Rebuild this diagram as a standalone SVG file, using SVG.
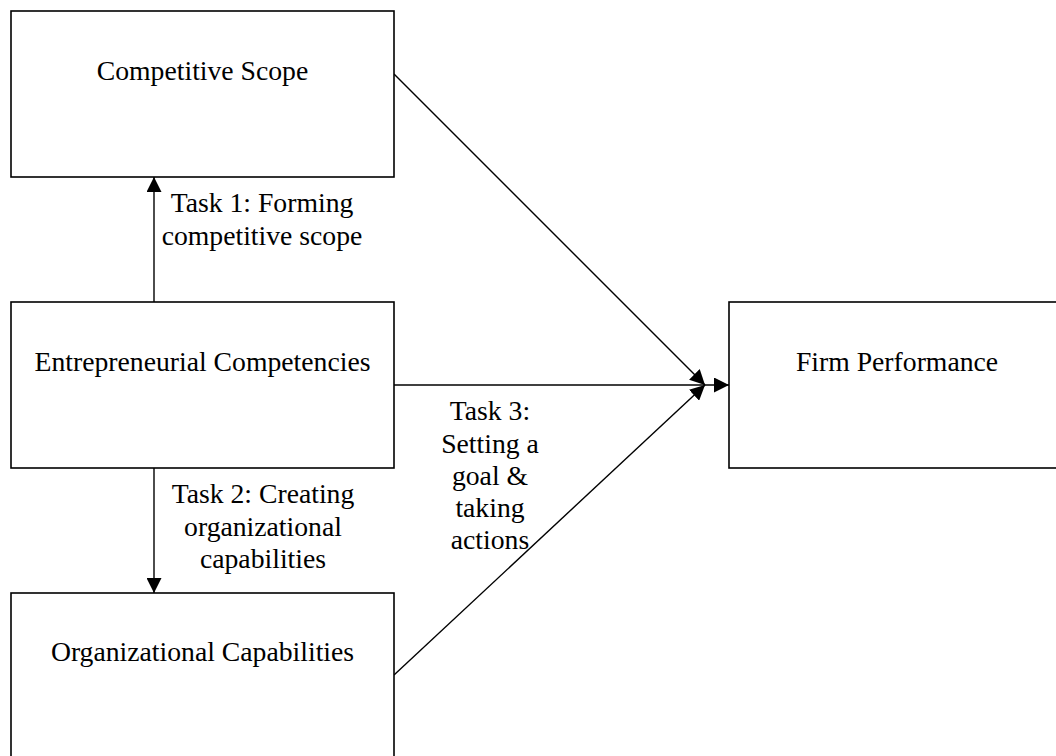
<svg xmlns="http://www.w3.org/2000/svg" width="1056" height="756" viewBox="0 0 1056 756">
  <style>
    .box { fill: #ffffff; stroke: #000000; stroke-width: 1.6; }
    .lbl { font-family: "Liberation Serif", "Times New Roman", serif; font-size: 27.7px; fill: #000000; text-anchor: middle; }
    .edge { fill: none; stroke: #000000; stroke-width: 1.4; marker-end: url(#arrow); }
  </style>
  <defs>
    <marker id="arrow" markerUnits="userSpaceOnUse" markerWidth="15" markerHeight="15" refX="15" refY="7.5" orient="auto">
      <path d="M0,0 L15,7.5 L0,15 Z" fill="#000000"/>
    </marker>
  </defs>

  <rect width="1056" height="756" fill="#ffffff"/>

  <!-- connectors -->
  <g id="connectors">
    <line class="edge" x1="154" y1="302" x2="154" y2="177"/>
    <line class="edge" x1="154" y1="468" x2="154" y2="593"/>
    <line class="edge" x1="394" y1="385" x2="729" y2="385"/>
    <line class="edge" x1="394" y1="74" x2="705" y2="385"/>
    <line class="edge" x1="394" y1="675" x2="705" y2="385"/>
    <text class="lbl"><tspan x="262" y="212">Task 1: Forming</tspan><tspan x="262" y="245">competitive scope</tspan></text>
    <text class="lbl"><tspan x="263" y="503">Task 2: Creating</tspan><tspan x="263" y="535.5">organizational</tspan><tspan x="263" y="567.5">capabilities</tspan></text>
    <text class="lbl"><tspan x="490" y="420">Task 3:</tspan><tspan x="490" y="452.5">Setting a</tspan><tspan x="490" y="485">goal &amp;</tspan><tspan x="490" y="517">taking</tspan><tspan x="490" y="549">actions</tspan></text>
  </g>

  <!-- nodes -->
  <g id="competitive-scope">
    <rect class="box" x="11" y="11" width="383" height="166"/>
    <text class="lbl" x="202.5" y="80">Competitive Scope</text>
  </g>
  <g id="entrepreneurial-competencies">
    <rect class="box" x="11" y="302" width="383" height="166"/>
    <text class="lbl" x="202.5" y="371">Entrepreneurial Competencies</text>
  </g>
  <g id="organizational-capabilities">
    <rect class="box" x="11" y="593" width="383" height="166"/>
    <text class="lbl" x="202.5" y="661">Organizational Capabilities</text>
  </g>
  <g id="firm-performance">
    <rect class="box" x="729" y="302" width="336" height="166"/>
    <text class="lbl" x="897" y="371">Firm Performance</text>
  </g>
</svg>
